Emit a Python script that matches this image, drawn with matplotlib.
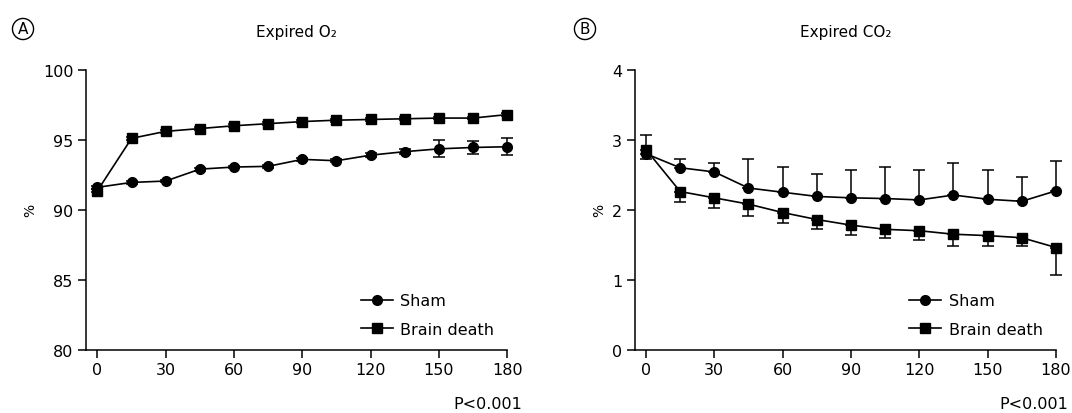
import numpy as np
import matplotlib
matplotlib.use('Agg')
import matplotlib.pyplot as plt
from matplotlib.lines import Line2D

plt.rcParams['font.family'] = ['DejaVu Sans']

minutes = [0, 15, 30, 45, 60, 75, 90, 105, 120, 135, 150, 165, 180]

# panel A: expired O2 (%)
o2_sham = [91.6, 91.95, 92.05, 92.9, 93.05, 93.1, 93.6, 93.5, 93.9, 94.15, 94.35, 94.45, 94.5]
o2_sham_err = [0.1, 0.1, 0.1, 0.1, 0.1, 0.1, 0.1, 0.1, 0.15, 0.2, 0.6, 0.45, 0.6]
o2_bd = [91.35, 95.1, 95.6, 95.8, 96.0, 96.15, 96.3, 96.4, 96.45, 96.5, 96.55, 96.55, 96.8]
o2_bd_err = [0.1] * 13

# panel B: expired CO2 (%)
co2_sham = [2.80, 2.60, 2.54, 2.31, 2.25, 2.19, 2.17, 2.16, 2.14, 2.21, 2.15, 2.12, 2.27]
co2_sham_up = [0.27, 0.13, 0.13, 0.41, 0.36, 0.32, 0.40, 0.45, 0.43, 0.46, 0.42, 0.35, 0.42]
co2_bd = [2.86, 2.26, 2.17, 2.08, 1.96, 1.86, 1.78, 1.72, 1.70, 1.65, 1.63, 1.60, 1.46]
co2_bd_down = [0.13, 0.15, 0.15, 0.17, 0.15, 0.13, 0.14, 0.13, 0.13, 0.17, 0.15, 0.12, 0.40]

xticks = [0, 30, 60, 90, 120, 150, 180]

fig = plt.figure(figsize=(10.72, 4.14), dpi=100)
axA = fig.add_axes([0.0802, 0.153, 0.393, 0.676])
axB = fig.add_axes([0.592, 0.153, 0.393, 0.676])

kw = dict(color='black', lw=1.2, ms=7, capsize=4, elinewidth=1.1, capthick=1.1, clip_on=False)

axA.errorbar(minutes, o2_bd, yerr=o2_bd_err, fmt='-s', **kw)
axA.errorbar(minutes, o2_sham, yerr=o2_sham_err, fmt='-o', **kw)
axA.set_ylim(80, 100)
axA.set_yticks([80, 85, 90, 95, 100])

zeros = [0] * 13
axB.errorbar(minutes, co2_bd, yerr=[co2_bd_down, zeros], fmt='-s', **kw)
axB.errorbar(minutes, co2_sham, yerr=[zeros, co2_sham_up], fmt='-o', **kw)
axB.set_ylim(0, 4)
axB.set_yticks([0, 1, 2, 3, 4])

handles = [Line2D([], [], color='black', lw=1.2, marker='o', ms=7),
           Line2D([], [], color='black', lw=1.2, marker='s', ms=7)]
labels = ['Sham', 'Brain death']

titles = ['Expired O\u2082', 'Expired CO\u2082']
for ax, t in zip([axA, axB], titles):
    ax.set_xlim(-5, 180)
    ax.set_xticks(xticks)
    for s in ['top', 'right']:
        ax.spines[s].set_visible(False)
    for s in ['left', 'bottom']:
        ax.spines[s].set_linewidth(1.1)
    ax.tick_params(direction='out', length=6, width=1.1, labelsize=11.5, pad=3)
    ax.set_title(t, fontsize=11, pad=24)
    ax.set_ylabel('%', fontsize=10, labelpad=4)
    ax.legend(handles, labels, loc='lower right', frameon=False, fontsize=11.5,
              handlelength=2.0, handletextpad=0.5, labelspacing=0.85,
              bbox_to_anchor=(1.0, 0.0), borderaxespad=0.4)

fig.text(23 / 1072, 1 - 30 / 414, 'A', ha='center', va='center', fontsize=11,
         bbox=dict(boxstyle='circle,pad=0.2', fc='white', ec='black', lw=1))
fig.text(585 / 1072, 1 - 30 / 414, 'B', ha='center', va='center', fontsize=11,
         bbox=dict(boxstyle='circle,pad=0.2', fc='white', ec='black', lw=1))

fig.text(522 / 1072, 1 - 405 / 414, 'P<0.001', ha='right', va='center', fontsize=11.5)
fig.text(1068 / 1072, 1 - 405 / 414, 'P<0.001', ha='right', va='center', fontsize=11.5)

fig.savefig('out.png', dpi=100)
